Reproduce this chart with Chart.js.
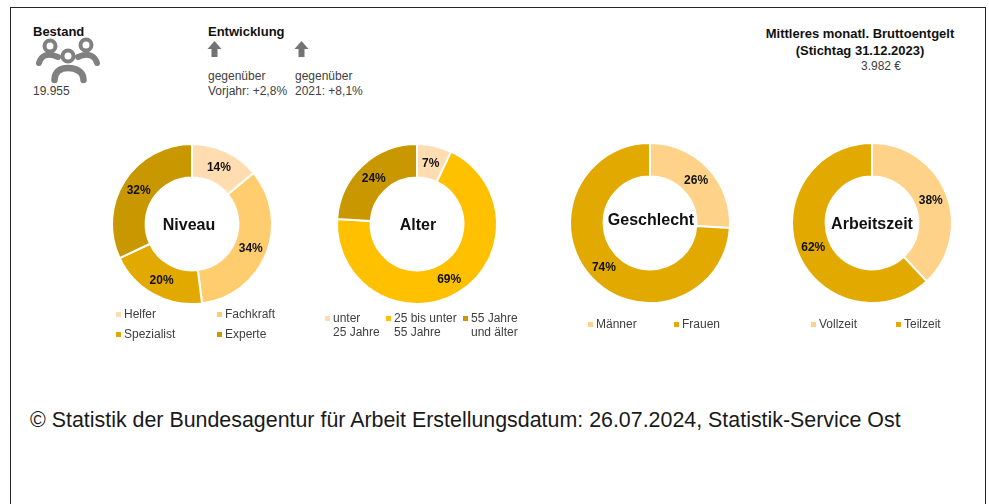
<!DOCTYPE html>
<html lang="de">
<head>
<meta charset="utf-8">
<script src="https://cdn.jsdelivr.net/npm/chart.js@4"></script>
<style>
  html, body { margin: 0; padding: 0; background: #fff; }
  body { width: 989px; height: 504px; position: relative; overflow: hidden; font-family: "Liberation Sans", Arial, sans-serif; font-size: 12px; color: #404040; }
  #frame { position: absolute; left: 10px; top: 7px; width: 974px; height: 520px; border: 1px solid #262626; }
  .t { position: absolute; white-space: nowrap; line-height: 15px; }
  .b { font-weight: bold; color: #111; font-size: 13px; }
  .box { position: absolute; width: 180px; height: 180px; }
  .sq { position: absolute; width: 5px; height: 5px; }
  svg { position: absolute; }
</style>
</head>
<body>
<div id="frame"></div>

<div class="t b" style="left:33px;top:24px">Bestand</div>
<svg style="left:34px;top:37px" width="70" height="48" viewBox="0 0 70 48" fill="none" stroke="#808080" stroke-width="6" stroke-linecap="round">
  <circle cx="16" cy="9" r="5.5" stroke-width="4"/>
  <circle cx="52" cy="8" r="5.5" stroke-width="4"/>
  <path d="M5 26 C7 19 13 15 24 20"/>
  <path d="M44 20 C54 15 61 19 63 26"/>
  <circle cx="34" cy="19" r="5.5" stroke-width="4"/>
  <path d="M20.5 43 C20.5 34 27 31 34 31 C41 31 49.5 34 49.5 43" stroke-width="6.5"/>
</svg>
<div class="t" style="left:33px;top:84px">19.955</div>

<div class="t b" style="left:208px;top:24px">Entwicklung</div>
<svg style="left:207px;top:41px" width="15" height="17" viewBox="0 0 15 17" fill="#737373"><path d="M7.5 0 L14.5 8 L10.5 8 L10.5 16 L4.5 16 L4.5 8 L0.5 8 Z"/></svg>
<svg style="left:294px;top:41px" width="15" height="17" viewBox="0 0 15 17" fill="#737373"><path d="M7.5 0 L14.5 8 L10.5 8 L10.5 16 L4.5 16 L4.5 8 L0.5 8 Z"/></svg>
<div class="t" style="left:208px;top:69px">gegenüber<br>Vorjahr: +2,8%</div>
<div class="t" style="left:295px;top:69px">gegenüber<br>2021: +8,1%</div>

<div class="t b" style="left:740px;width:240px;text-align:center;top:25px;line-height:17px">Mittleres monatl. Bruttoentgelt<br>(Stichtag 31.12.2023)</div>
<div class="t" style="left:861px;top:59px">3.982 €</div>

<div class="t" style="left:30px;top:408px;font-size:21.4px;line-height:24px;color:#1a1a1a">© Statistik der Bundesagentur für Arbeit Erstellungsdatum: 26.07.2024, Statistik-Service Ost</div>

<script>
// Werte aus dem Bild
const niveauLabels = ['Helfer', 'Fachkraft', 'Spezialist', 'Experte'];
const niveauValues = [14, 34, 20, 32];
const niveauColors = ['#FFDDB0', '#FFCC6E', '#E2A900', '#C99700'];

const alterLabels = ['unter\n25 Jahre', '25 bis unter\n55 Jahre', '55 Jahre\nund älter'];
const alterValues = [7, 69, 24];
const alterColors = ['#FFDDB0', '#FFC000', '#C99700'];

const geschlechtLabels = ['Männer', 'Frauen'];
const geschlechtValues = [26, 74];
const geschlechtColors = ['#FFD28A', '#E2A900'];

const zeitLabels = ['Vollzeit', 'Teilzeit'];
const zeitValues = [38, 62];
const zeitColors = ['#FFD28A', '#E2A900'];

// Zeichnet Prozentwerte auf die Ringe und den Titel in die Mitte
const donutText = {
    id: 'donutText',
    afterDatasetsDraw(chart, args, opts) {
        const c = chart.ctx;
        const arcs = chart.getDatasetMeta(0).data;
        c.save();
        c.textAlign = 'center';
        c.textBaseline = 'middle';
        c.fillStyle = '#111';
        c.font = 'bold 12px "Liberation Sans"';
        arcs.forEach((arc, i) => {
            const p = arc.getCenterPoint();
            c.fillText(chart.data.datasets[0].data[i] + '%', p.x, p.y + 1);
        });
        c.font = 'bold 16px "Liberation Sans"';
        c.fillText(opts.title, arcs[0].x + opts.dx, arcs[0].y + opts.dy);
        c.restore();
    }
};

function makeDonut(cx, cy, title, dx, dy, labels, values, colors) {
    const box = document.createElement('div');
    box.className = 'box';
    box.style.left = (cx - 90) + 'px';
    box.style.top = (cy - 90) + 'px';
    const cv = document.createElement('canvas');
    cv.width = 180;
    cv.height = 180;
    box.appendChild(cv);
    document.body.appendChild(box);
    new Chart(cv, {
        type: 'doughnut',
        data: {
            labels: labels,
            datasets: [{
                data: values,
                backgroundColor: colors,
                borderColor: '#fff',
                borderWidth: 2
            }]
        },
        options: {
            responsive: false,
            animation: false,
            cutout: '58%',
            radius: 80,
            layout: { padding: 0 },
            plugins: {
                legend: { display: false },
                tooltip: { enabled: false },
                donutText: { title: title, dx: dx, dy: dy }
            }
        },
        plugins: [donutText]
    });
}

function addLegend(labels, colors, spots, lineHeight) {
    labels.forEach((txt, i) => {
        const s = document.createElement('div');
        s.className = 'sq';
        s.style.left = spots[i][0] + 'px';
        s.style.top = (spots[i][1] + 5) + 'px';
        s.style.background = colors[i];
        document.body.appendChild(s);
        const d = document.createElement('div');
        d.className = 't';
        d.style.left = (spots[i][0] + 8) + 'px';
        d.style.top = spots[i][1] + 'px';
        d.style.lineHeight = lineHeight + 'px';
        d.innerHTML = txt.replace('\n', '<br>');
        document.body.appendChild(d);
    });
}

makeDonut(192, 223.5, 'Niveau', -3, 2, niveauLabels, niveauValues, niveauColors);
makeDonut(417, 223.5, 'Alter', 1, 2, alterLabels, alterValues, alterColors);
makeDonut(650, 223, 'Geschlecht', 1, -2, geschlechtLabels, geschlechtValues, geschlechtColors);
makeDonut(872, 223, 'Arbeitszeit', 0, 2, zeitLabels, zeitValues, zeitColors);

addLegend(niveauLabels, niveauColors, [[116, 307], [217, 307], [116, 327], [217, 327]], 15);
addLegend(alterLabels, alterColors, [[325, 311], [386, 311], [463, 311]], 14);
addLegend(geschlechtLabels, geschlechtColors, [[588, 317], [674, 317]], 15);
addLegend(zeitLabels, zeitColors, [[811, 317], [896, 317]], 15);
</script>
</body>
</html>
